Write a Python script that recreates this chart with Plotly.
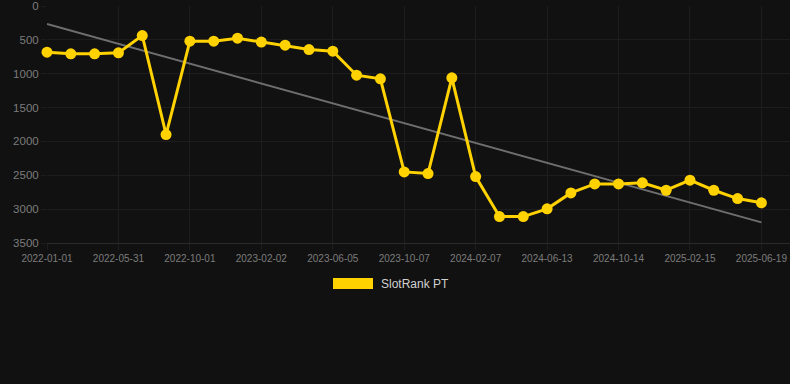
import plotly.graph_objects as go

dates = ["2022-01-01", "2022-02-20", "2022-04-11", "2022-05-31", "2022-07-11", "2022-08-21",
         "2022-10-01", "2022-11-11", "2022-12-22", "2023-02-02", "2023-03-15", "2023-04-25",
         "2023-06-05", "2023-07-16", "2023-08-26", "2023-10-07", "2023-11-17", "2023-12-28",
         "2024-02-07", "2024-03-19", "2024-05-02", "2024-06-13", "2024-07-24", "2024-09-03",
         "2024-10-14", "2024-11-24", "2025-01-04", "2025-02-15", "2025-03-28", "2025-05-08",
         "2025-06-19"]
rank_pt = [682, 706, 706, 692, 436, 1898, 520, 520, 476, 532, 579, 643, 668, 1022, 1076,
           2450, 2474, 1061, 2519, 3110, 3110, 2996, 2760, 2627, 2627, 2612, 2721, 2573,
           2721, 2844, 2907]
trend_x = [dates[0], dates[-1]]
trend_y = [265, 3195]
tick_labels = dates[::3]
y_ticks = [0, 500, 1000, 1500, 2000, 2500, 3000, 3500]
series_name = "SlotRank PT"

BG = "#111111"
GOLD = "#FFD200"
GRID = "#1d1d1d"
TICKC = "#7c7c7c"

fig = go.Figure()
fig.add_trace(go.Scatter(
    x=trend_x, y=trend_y, mode="lines",
    line=dict(color="#6e6e6e", width=2), showlegend=False, hoverinfo="skip",
    cliponaxis=False))
fig.add_trace(go.Scatter(
    x=dates, y=rank_pt, mode="lines+markers", name=series_name,
    line=dict(color=GOLD, width=3), marker=dict(color=GOLD, size=11),
    showlegend=False, cliponaxis=False))

fig.update_layout(
    width=790, height=384,
    paper_bgcolor=BG, plot_bgcolor=BG,
    margin=dict(l=47, r=0, t=6, b=141),
    font=dict(family="Liberation Sans, Arial, sans-serif", color=TICKC),
    xaxis=dict(type="category", categoryorder="array", categoryarray=dates,
               range=[0, 31.2], tickvals=tick_labels, ticktext=tick_labels,
               tickfont=dict(size=10, color=TICKC), showgrid=True, gridcolor=GRID,
               ticks="outside", ticklen=6, tickcolor=GRID,
               showline=True, linecolor="#2a2a2a", linewidth=1, zeroline=False),
    yaxis=dict(range=[3500, 0], tickvals=y_ticks, tickfont=dict(size=11.5, color=TICKC),
               showgrid=True, gridcolor=GRID, ticks="outside", ticklen=5,
               tickcolor=GRID, zeroline=False, showline=False),
    shapes=[dict(type="rect", xref="paper", yref="paper",
                 x0=(333 - 47) / 743, x1=(373 - 47) / 743,
                 y0=(384 - 141 - 289) / 237, y1=(384 - 141 - 278) / 237,
                 fillcolor=GOLD, line=dict(width=0))],
    annotations=[dict(text=series_name, xref="paper", yref="paper",
                      x=(379 - 47) / 743, y=(384 - 141 - 284) / 237,
                      xanchor="left", yanchor="middle", showarrow=False,
                      font=dict(size=12, color="#d0d0d0"))],
)

fig.write_html("out.html", config={"displayModeBar": False},
               post_script="document.body.style.margin='0';document.body.style.background='#111111';")
